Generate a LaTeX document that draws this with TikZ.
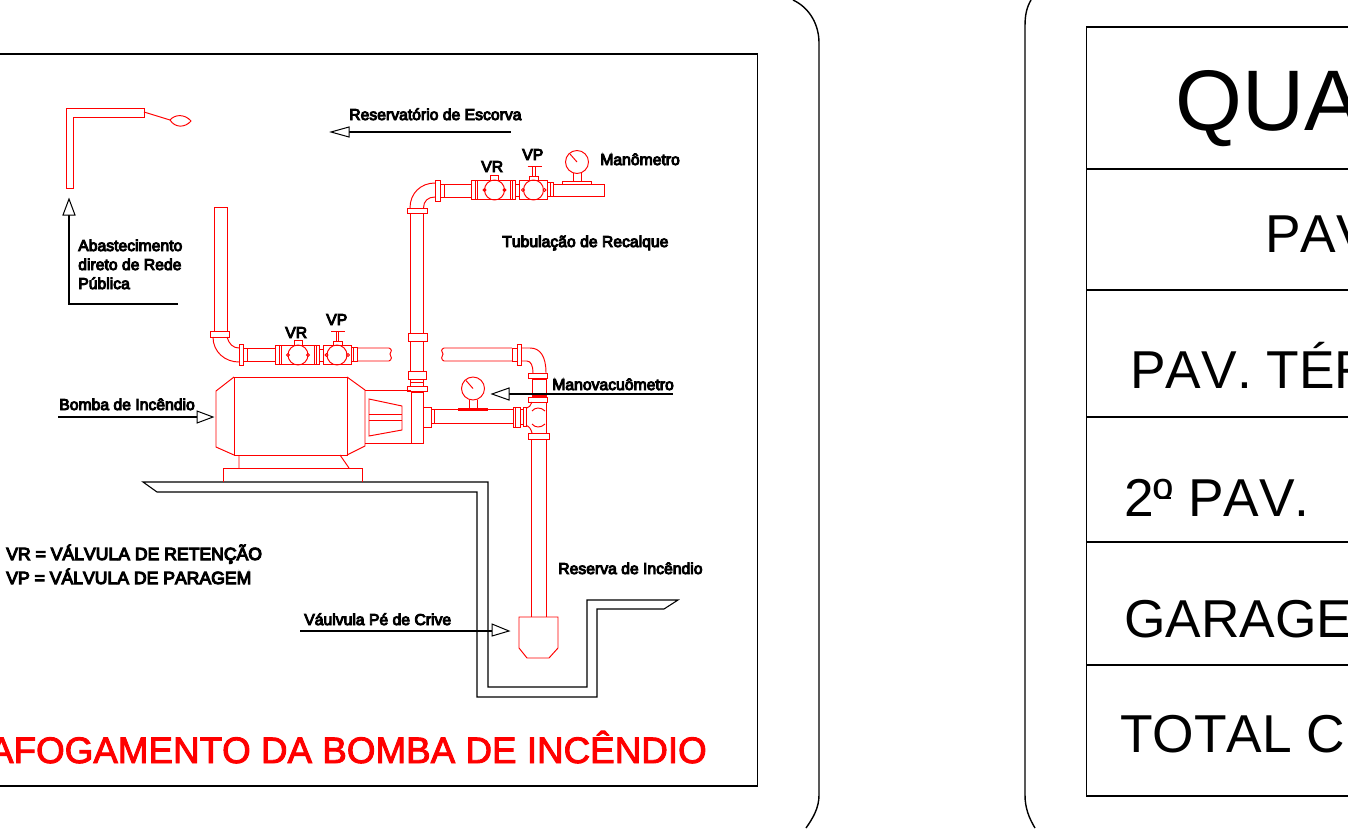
\documentclass[tikz,border=0pt]{standalone}
\usepackage{fontspec}
\setmainfont[Kerning=Off]{Liberation Sans}
\newfontfamily\fatfont[FakeBold=6,Kerning=Off]{Liberation Sans}
\newfontfamily\redfont[FakeBold=2.5,Kerning=Off]{Liberation Sans}
\newcommand{\valvepair}[2]{%
\begin{scope}[shift={(#1,#2)}]
 \draw[pipe] (275,345) rectangle (319,364);
 \draw[pipe] (279,345)--(279,364) (281,345)--(281,364) (314,345)--(314,364) (316,345)--(316,364);
 \draw[pipe] (298,355) circle (10);
 \draw[pipe] (288,355) circle (1.5) (308,355) circle (1.5);
 \draw[pipe] (294,340.5) rectangle (302,345);
 \draw[pipe] (319,349)--(323,349) (319,361)--(323,361);
 \draw[pipe] (323,345) rectangle (351,364);
 \draw[pipe] (337,355) circle (10);
 \draw[pipe] (326.5,355) circle (1.5) (348,355) circle (1.5);
 \draw[pipe] (333,341) rectangle (342,345);
 \draw[pipe] (336,332)--(336,341) (338.5,332)--(338.5,341);
 \draw[pipe,line width=1.4pt] (331,331.5)--(345,331.5);
 \draw[pipe] (351,347.5) rectangle (357,361.5) (353.5,347.5)--(353.5,361.5);
\end{scope}}
\newcommand{\gauge}[2]{%
\begin{scope}[shift={(#1,#2)}]
 \draw[pipe] (0,0) circle (11.5);
 \draw[pipe] (-7,-8)--(0,0);
 \draw[pipe] (-4,11)--(-4,20) (4,11)--(4,20);
\end{scope}}
\tikzset{
 x=0.75pt,y=-0.75pt,
 pipe/.style={draw=red,line width=0.72pt},
 blk/.style={draw=black,line width=0.8pt},
 heavy/.style={draw=black,line width=1.05pt},
 tip/.style={draw=black,line width=0.75pt,fill=white},
 lab/.style={inner sep=0pt,anchor=base west,font=\fatfont\fontsize{11.8}{13}\selectfont,text=black},
 big/.style={inner sep=0pt,anchor=base west,text=black},
}
\begin{document}
\begin{tikzpicture}
\clip (0,0) rectangle (1348,828);
\fill[white] (0,0) rectangle (1348,828);
% outer borders
\draw[heavy] (793,0) .. controls (810,8) and (819,25) .. (819,43) -- (819,795) .. controls (819,808) and (813,818) .. (806,828);
\draw[heavy] (1031,0) .. controls (1027,7) and (1025,14) .. (1025,26) -- (1025,795) .. controls (1025,808) and (1029,818) .. (1035,828);
% drawing frame
\draw[blk] (-2,54) -- (757.5,54) -- (757.5,786) -- (-2,786);
% table
\draw[heavy] (1349,27) -- (1086.5,27) -- (1086.5,796) -- (1349,796);
\draw[heavy] (1087,169) -- (1349,169) (1087,290) -- (1349,290) (1087,417) -- (1349,417) (1087,542) -- (1349,542) (1087,665) -- (1349,665);
\node[big,font=\fontsize{64.5}{70}\selectfont] (t1) at (1175,130) {QUA};
\node[big,font=\fontsize{40}{44}\selectfont] (t2) at (1265,252) {PAV};
\node[big,font=\fontsize{40}{44}\selectfont] (t3) at (1130,388) {PAV. TÉR};
\node[big,font=\fontsize{40}{44}\selectfont] (t4) at (1124,516) {2º PAV.};
\draw[heavy] (1159,498) -- (1171,498);
\node[big,font=\fontsize{40}{44}\selectfont] (t5) at (1124,637) {GARAGE};
\node[big,font=\fontsize{40}{44}\selectfont] (t6) at (1120,752) {TOTAL C};
% floor
\draw[blk] (143,482) -- (488,482) -- (488,687) -- (587,687) -- (587,600) -- (678,600) -- (664,609) -- (597,609) -- (597,697) -- (477,697) -- (477,492) -- (157,492) -- cycle;
% top-left supply
\draw[pipe] (66,188) -- (66,108) -- (144,108) -- (144,117) -- (73,117) -- (73,188) -- cycle;
\draw[pipe] (144,112) -- (170,120);
\draw[pipe] (170,120) .. controls (175,114) and (185,114) .. (191,121) .. controls (185,128) and (175,128) .. (170,120);
% pump
\draw[pipe] (234,377) rectangle (347,455);
\draw[pipe] (234,377) -- (216,391) -- (216,447) -- (234,455);
\draw[pipe] (347,377) -- (365,390) -- (365,446) -- (347,455);
\draw[pipe] (365,390) -- (411,390) (365,443) -- (411,443);
\draw[pipe] (369,399) -- (402,406) -- (402,430) -- (369,436) -- cycle;
\draw[pipe] (369,414) -- (402,414) (369,420) -- (402,420);
\draw[pipe] (411,392) rectangle (423,443);
\draw[pipe] (407,386.5) rectangle (427,391.5);
\draw[pipe] (239,455) -- (239,468) (340,455) -- (349,468);
\draw[pipe] (223,482) -- (223,468) -- (362,468) -- (362,482);
% discharge column left
\draw[pipe] (214,331) -- (214,207) -- (227,207) -- (227,331);
\draw[pipe] (210,331) rectangle (229,337);
\draw[pipe] (213,337) .. controls (213,352) and (225,362) .. (239,362);
\draw[pipe] (227,337) .. controls (229,344) and (233,348) .. (239,348);
\draw[pipe] (239,344) rectangle (243,365);
\draw[pipe] (243,348) rectangle (247,361);
\draw[pipe] (247,348) -- (275,348) (247,361) -- (275,361);
\valvepair{0}{0}
\draw[pipe] (357,348) -- (389,348) .. controls (392,349) and (392,352) .. (390,354) .. controls (392,356) and (392,360) .. (389,361) -- (357,361);
% central column
\draw[pipe] (410,213) -- (410,333) (423.5,213) -- (423.5,333);
\draw[pipe] (408,333) rectangle (427,341);
\draw[pipe] (410,341) -- (410,371) (423.5,341) -- (423.5,371);
\draw[pipe] (408,371) rectangle (426,379);
\draw[pipe] (410,379) -- (410,386.5) (423.5,379) -- (423.5,386.5) (410,382) -- (423.5,382);
\draw[pipe] (407,208) rectangle (427,213);
\draw[pipe] (410,208) .. controls (410,193) and (421,183) .. (435,183);
\draw[pipe] (423.5,208) .. controls (423.5,201) and (428,197) .. (435,197);
\draw[pipe] (435,180) rectangle (440,201);
\draw[pipe] (440,184) rectangle (444,197);
\draw[pipe] (444,184) -- (472,184) (444,197) -- (472,197);
\valvepair{196.5}{-165}
\draw[pipe] (553.5,184) rectangle (604,196.5);
\gauge{577}{162}
\draw[pipe] (562,181) rectangle (591,184);
% suction elbow
\draw[pipe] (512,348) -- (444,348) .. controls (441,349) and (441,352) .. (443,354) .. controls (441,356) and (441,360) .. (444,361) -- (512,361);
\draw[pipe] (512,348) rectangle (517,361);
\draw[pipe] (517,344) rectangle (521,365);
\draw[pipe] (521,348) -- (530,348) .. controls (540,348) and (546,356) .. (546,373);
\draw[pipe] (521,361) -- (527,361) .. controls (531,361) and (533,366) .. (533,373);
\draw[pipe] (528,373) rectangle (547,378);
\draw[pipe] (532,378) -- (532,397) (546,378) -- (546,397);
\draw[pipe,line width=1.2pt] (532,379) -- (546,379) (532,396) -- (546,396);
\draw[pipe] (528,397) rectangle (547,402);
% tee
\draw[pipe] (546,402) -- (546,433);
\draw[pipe] (532,402) .. controls (531,405) and (529,408) .. (526,408.5);
\draw[pipe] (526,425.5) .. controls (529,426) and (531,429) .. (532,433);
\draw[pipe] (532,411) .. controls (535,407) and (541,407) .. (545,411);
\draw[pipe] (532,424) .. controls (535,428) and (541,428) .. (545,424);
\draw[pipe] (528,433.5) rectangle (549,439);
\draw[pipe] (531.5,439) -- (531.5,617) (546.5,439) -- (546.5,617);
\draw[pipe] (519,617) -- (558,617) -- (558,648) -- (549,658) -- (527,658) -- (519,648) -- cycle;
% suction line
\draw[pipe] (423,407) rectangle (431,427);
\draw[pipe] (431,409) rectangle (434,423);
\draw[pipe] (434,409) -- (513,409) (434,423) -- (513,423);
\draw[pipe] (513,407) rectangle (520,427);
\draw[pipe] (515,407) -- (515,427);
\draw[pipe] (523,407) rectangle (526,426);
\draw[pipe] (520,409.5) -- (523,409.5) (520,424) -- (523,424);
\gauge{473}{388.5}
\fill[red] (458,408) rectangle (488,410.5);
% leaders
\draw[blk] (349,132) -- (511,132);
\draw[tip] (331,132) -- (349,127) -- (349,137) -- cycle;
\draw[blk] (178,304) -- (69,304) -- (69,215);
\draw[tip] (69,199) -- (63,215) -- (75,215) -- cycle;
\draw[blk] (58,417) -- (197,417);
\draw[tip] (213,417) -- (197,411) -- (197,423) -- cycle;
\draw[blk] (509,394) -- (673,394);
\draw[tip] (492,394) -- (509,388) -- (509,400) -- cycle;
\draw[blk] (300,631) -- (492,631);
\draw[tip] (509,631) -- (492,624) -- (492,636) -- cycle;
% labels
\node[lab] (l1) at (349,120) {Reservatório de Escorva};
\node[lab] (l2) at (481,172) {VR};
\node[lab] (l3) at (522,160) {VP};
\node[lab] (l4) at (600,165) {Manômetro};
\node[lab] (l5) at (502,247) {Tubulação de Recalque};
\node[lab] (l6) at (78,251) {Abastecimento};
\node[lab] (l7) at (78,270) {direto de Rede};
\node[lab] (l8) at (78,289) {Pública};
\node[lab] (l9) at (285,338) {VR};
\node[lab] (l10) at (326,325) {VP};
\node[lab] (l11) at (552,390) {Manovacuômetro};
\node[lab] (l12) at (59,410) {Bomba de Incêndio};
\node[lab] (l13) at (558,574) {Reserva de Incêndio};
\node[lab] (l14) at (304,625) {Váulvula Pé de Crive};
\node[lab,font=\fatfont\fontsize{13.2}{15}\selectfont] (l15) at (6,560) {VR = VÁLVULA DE RETENÇÃO};
\node[lab,font=\fatfont\fontsize{13.2}{15}\selectfont] (l16) at (6,584) {VP = VÁLVULA DE PARAGEM};
\node[inner sep=0pt,anchor=base east,text=red,font=\redfont\fontsize{27.6}{30}\selectfont] (title) at (707,763) {AFOGAMENTO DA BOMBA DE INCÊNDIO};
\end{tikzpicture}
\end{document}
